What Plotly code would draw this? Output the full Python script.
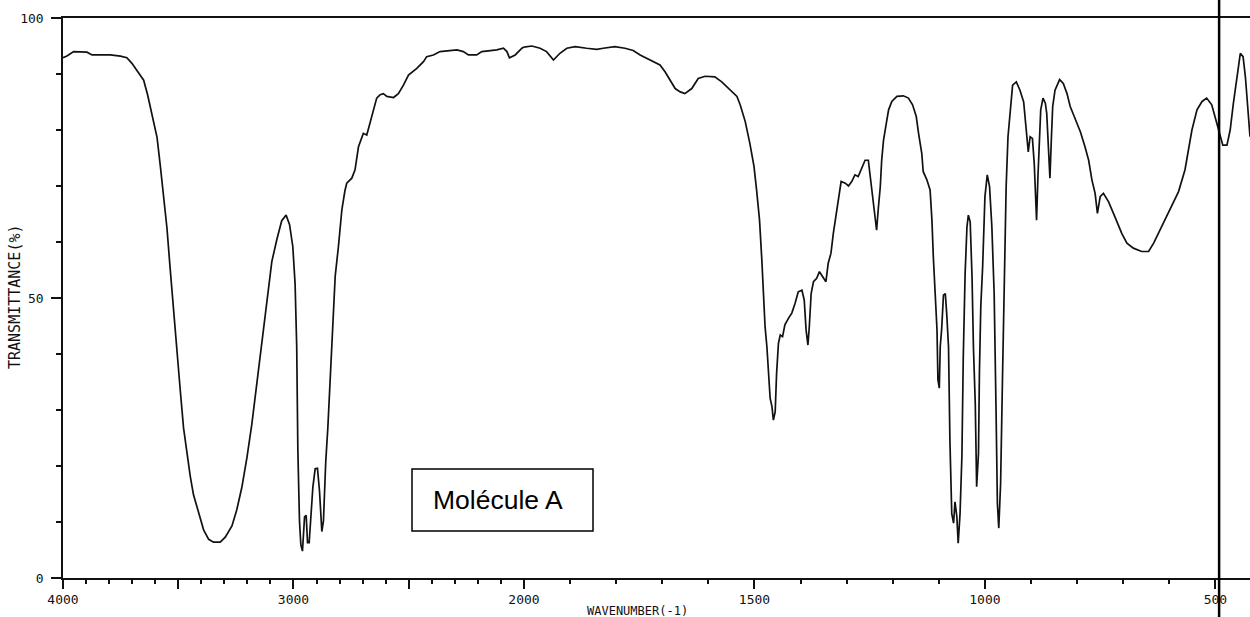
import numpy as np
import plotly.graph_objects as go

# ---------------- data ----------------
wavenumber = [
    4000, 3983, 3954, 3925, 3896, 3874, 3795, 3751, 3723, 3701, 3672, 3650, 3633, 3614,
    3592, 3578, 3564, 3549, 3535, 3520, 3506, 3491, 3477, 3462, 3448, 3434, 3412, 3390,
    3368, 3347, 3318, 3296, 3267, 3246, 3224, 3202, 3181, 3159, 3137, 3116, 3094, 3072,
    3051, 3032, 3017, 3003, 2993, 2986, 2981, 2974, 2968, 2961, 2952, 2945, 2939, 2932,
    2925, 2916, 2906, 2896, 2887, 2877, 2870, 2860, 2851, 2841, 2829, 2819, 2805, 2790,
    2777, 2769, 2747, 2733, 2718, 2704, 2697, 2682, 2668, 2653, 2639, 2624, 2610, 2595,
    2566, 2545, 2523, 2501, 2465, 2436, 2422, 2393, 2364, 2291, 2263, 2241, 2205, 2183,
    2118, 2089, 2074, 2063, 2038, 2009, 2000,
    1983, 1965, 1951, 1936, 1922, 1907, 1889, 1864, 1842, 1828, 1803, 1781, 1763, 1748,
    1727, 1705, 1694, 1683, 1672, 1661, 1651, 1636, 1622, 1607, 1586, 1571, 1553, 1538,
    1531, 1520, 1510, 1501, 1495, 1489, 1484, 1481, 1477, 1473, 1470, 1466, 1462, 1459,
    1455, 1452, 1448, 1444, 1439, 1434, 1426, 1419, 1412, 1405, 1397, 1392, 1388, 1384,
    1381, 1377, 1372, 1365, 1359, 1352, 1345, 1340, 1334, 1329, 1323, 1318, 1312, 1303,
    1296, 1289, 1282, 1275, 1267, 1260, 1253, 1248, 1242, 1238, 1235, 1231, 1227, 1224,
    1220, 1214, 1209, 1202, 1191, 1177, 1166, 1157, 1149, 1144, 1137, 1134, 1126, 1119,
    1115, 1112, 1108, 1104, 1102, 1099, 1097, 1094, 1090, 1086, 1083, 1079, 1076, 1072,
    1068, 1065, 1061, 1058, 1054, 1050, 1047, 1043, 1039, 1036, 1032, 1028, 1025, 1021,
    1018, 1014, 1012, 1009, 1005, 1000, 995, 990, 985, 980, 976, 973, 970, 966, 962,
    958, 954, 950, 945, 940, 932, 924, 916, 911, 906, 902, 897, 893, 890, 888, 885, 882,
    879, 874, 869, 866, 862, 859, 856, 853, 848, 838, 830, 822, 815, 804, 793, 783, 775,
    768, 761, 756, 750, 743, 732, 718, 703, 692, 678, 660, 645, 634, 624, 609, 595, 580,
    566, 558, 551, 540, 529, 519, 508, 497, 490, 484, 475, 468, 461, 453, 446, 440, 435,
    430, 426, 425,
]
transmittance = [
    92.9, 93.2, 94.0, 94.0, 93.9, 93.4, 93.4, 93.2, 92.9, 91.9, 90.2, 88.9, 86.3, 82.9,
    78.7, 73.7, 68.4, 62.5, 55.2, 47.3, 40.0, 33.4, 26.8, 22.1, 18.2, 14.9, 11.6, 8.6,
    6.9, 6.4, 6.4, 7.3, 9.3, 12.2, 16.2, 21.5, 27.4, 34.7, 42.0, 49.2, 56.5, 60.5,
    63.8, 64.8, 63.1, 59.2, 52.5, 41.3, 22.8, 10.2, 5.9, 4.8, 10.9, 11.2, 6.3, 6.3,
    11.6, 16.2, 19.5, 19.6, 15.5, 8.3, 10.2, 20.8, 26.8, 35.4, 45.3, 53.9, 59.2, 65.8,
    69.1, 70.5, 71.4, 72.9, 77.0, 78.8, 79.4, 79.1, 81.2, 83.6, 85.7, 86.3, 86.5, 86.0,
    85.8, 86.5, 88.0, 89.8, 91.0, 92.2, 93.1, 93.4, 94.0, 94.3, 94.0, 93.4, 93.4, 94.0,
    94.3, 94.6, 94.0, 92.9, 93.4, 94.6, 94.8,
    95.0, 94.6, 94.0, 92.5, 93.7, 94.6, 94.9, 94.6, 94.4, 94.6, 94.9, 94.6, 94.2, 93.4,
    92.5, 91.6, 90.4, 88.9, 87.4, 86.8, 86.5, 87.4, 89.2, 89.6, 89.5, 88.6, 87.1, 86.0,
    84.5, 81.5, 77.6, 73.5, 69.0, 63.9, 56.8, 50.2, 44.9, 41.3, 36.5, 32.1, 30.6, 28.2,
    29.7, 36.5, 41.9, 43.4, 43.1, 45.2, 46.4, 47.3, 49.0, 51.1, 51.4, 49.6, 44.3, 41.6,
    44.9, 50.8, 52.9, 53.5, 54.7, 53.8, 52.9, 56.2, 58.0, 61.5, 65.1, 68.1, 70.8, 70.5,
    70.0, 70.8, 72.0, 71.7, 73.2, 74.6, 74.6, 71.1, 66.3, 63.9, 62.1, 66.3, 69.9, 74.6,
    78.2, 81.2, 83.6, 85.1, 86.0, 86.1, 85.7, 84.5, 82.4, 79.4, 75.8, 72.6, 71.1, 69.3,
    63.9, 57.4, 50.2, 44.3, 35.4, 33.9, 41.3, 44.3, 50.5, 50.8, 47.3, 41.3, 24.6, 11.5,
    9.8, 13.6, 11.0, 6.2, 11.5, 21.7, 39.5, 54.4, 62.7, 64.8, 63.6, 53.8, 41.3, 31.2,
    16.3, 22.3, 36.5, 48.5, 55.6, 68.1, 72.0, 69.9, 62.7, 50.8, 30.6, 13.3, 8.9, 16.9, 35.4,
    55.3, 69.9, 78.8, 84.2, 88.0, 88.6, 87.1, 85.0, 80.6, 76.1, 78.8, 78.5, 74.0, 66.9, 63.9, 71.7, 77.6,
    83.6, 85.7, 84.8, 83.0, 76.4, 71.4, 78.2, 84.2, 87.1, 89.0, 88.3, 86.5, 84.2, 81.8, 79.7, 77.0, 74.6,
    71.1, 68.7, 65.1, 68.1, 68.7, 67.2, 64.5, 61.5, 59.8, 58.9, 58.3, 58.3, 59.8, 61.5, 63.9, 66.3, 69.0,
    72.9, 76.4, 80.0, 83.6, 85.1, 85.7, 84.5, 81.2, 78.8, 77.3, 77.3, 80.0, 84.8, 89.5, 93.7, 93.1, 89.5,
    84.2, 79.4, 78.8,
]

x_ticks_left = [4000, 3500, 3000, 2500]
x_labels_left = ["4000", "", "3000", ""]
x_ticks_right = [2000, 1500, 1000, 500]
x_labels_right = ["2000", "1500", "1000", "500"]
y_ticks = [0, 50, 100]
y_labels = ["0", "50", "100"]

x_title = "WAVENUMBER(-1)"
y_title = "TRANSMITTANCE(%)"
box_label = "Molécule A"
marker_line_wn = 492

# ---------------- layout geometry ----------------
W, H = 1250, 617
ML, MR, MT, MB = 63, 0, 18, 39
PW, PH = W - ML - MR, H - MT - MB
left_range = [4000, 2000]
right_range = [2000, 425]
# right part has twice the pixel density of the left part
split = (left_range[0] - left_range[1]) / (
    (left_range[0] - left_range[1]) + 2 * (right_range[0] - right_range[1]))


def px(xp):
    return (xp - ML) / PW


def py(yp):
    return (H - MB - yp) / PH


wn = np.array(wavenumber, dtype=float)
tr = np.array(transmittance, dtype=float)
m1 = wn >= 2000
m2 = wn <= 2000

line_style = dict(color="#111111", width=1.7)

fig = go.Figure()
fig.add_trace(go.Scatter(x=wn[m1], y=tr[m1], mode="lines", line=line_style,
                         xaxis="x", yaxis="y", showlegend=False, hoverinfo="x+y"))
fig.add_trace(go.Scatter(x=wn[m2], y=tr[m2], mode="lines", line=line_style,
                         xaxis="x2", yaxis="y", showlegend=False, hoverinfo="x+y"))

tick_font = dict(family="DejaVu Sans Mono", size=13, color="#111111")
minor_x = dict(dtick=100, tick0=0, ticklen=4, ticks="outside", tickcolor="#111111",
               tickwidth=1.5, showgrid=False)

common_x = dict(showgrid=False, zeroline=False, showline=True, linecolor="#111111",
                linewidth=1.5, mirror=True, ticks="outside", ticklen=9, tickwidth=1.5,
                tickcolor="#111111", tickfont=tick_font, tickmode="array",
                tickangle=0, minor=minor_x, anchor="y")

fig.update_layout(
    width=W, height=H,
    margin=dict(l=ML, r=MR, t=MT, b=MB, pad=0),
    paper_bgcolor="white", plot_bgcolor="white",
    xaxis=dict(domain=[0, split], range=left_range, tickvals=x_ticks_left,
               ticktext=x_labels_left, **common_x),
    xaxis2=dict(domain=[split, 1], range=right_range, tickvals=x_ticks_right,
                ticktext=x_labels_right, **common_x),
    yaxis=dict(domain=[0, 1], range=[0, 100], showgrid=False, zeroline=False,
               showline=True, linecolor="#111111", linewidth=1.5,
               ticks="outside", ticklen=10, tickwidth=1.5, tickcolor="#111111",
               tickmode="array", tickvals=y_ticks, ticktext=y_labels,
               tickfont=tick_font, ticklabelstandoff=5,
               minor=dict(dtick=10, tick0=0, ticklen=5, ticks="outside",
                          tickcolor="#111111", tickwidth=1.5, showgrid=False),
               anchor="x"),
    shapes=[
        dict(type="rect", xref="paper", yref="paper",
             x0=px(412), x1=px(593), y0=py(531), y1=py(469),
             line=dict(color="#000000", width=1.5), fillcolor="rgba(0,0,0,0)"),
        dict(type="line", xref="x2", yref="paper",
             x0=marker_line_wn, x1=marker_line_wn, y0=py(H + 2), y1=py(-2),
             line=dict(color="#000000", width=2.5)),
    ],
    annotations=[
        dict(text=box_label, xref="paper", yref="paper", x=px(498), y=py(500),
             xanchor="center", yanchor="middle", showarrow=False,
             font=dict(family="Liberation Sans, Arial", size=26.5, color="#000000")),
        dict(text=x_title, xref="paper", yref="paper", x=px(637), y=py(611),
             xanchor="center", yanchor="middle", showarrow=False,
             font=dict(family="DejaVu Sans Mono", size=12, color="#111111")),
        dict(text=y_title, xref="paper", yref="paper", x=px(15), y=py(297),
             xanchor="center", yanchor="middle", showarrow=False, textangle=-90,
             font=dict(family="DejaVu Sans Mono", size=15, color="#111111")),
    ],
)

fig.write_html(
    "out.html",
    config={"displayModeBar": False},
    post_script="document.body.style.margin='0';document.body.style.overflow='hidden';",
)
